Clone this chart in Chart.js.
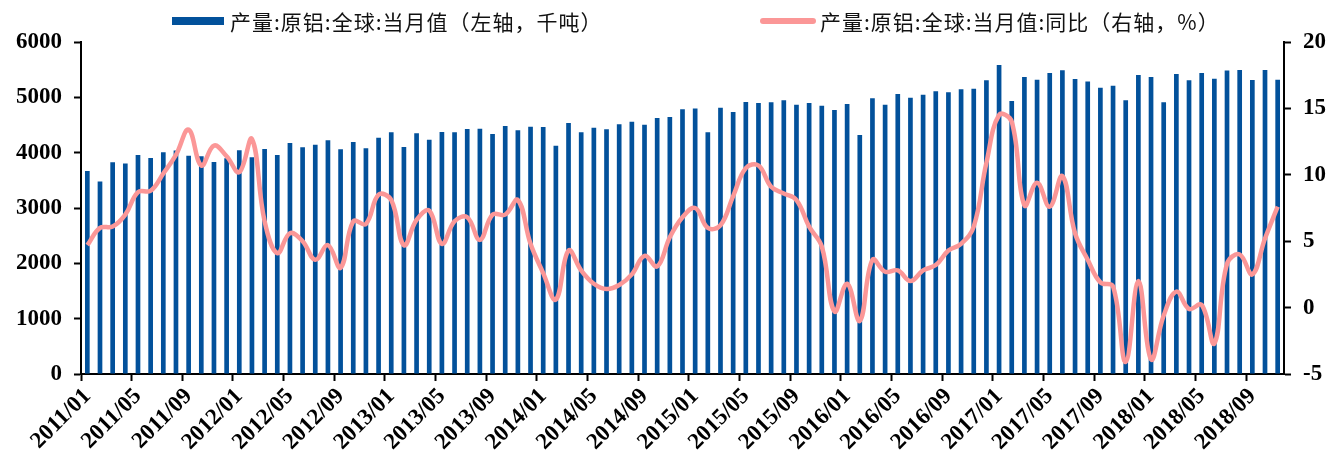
<!DOCTYPE html>
<html>
<head>
<meta charset="utf-8">
<script src="https://cdn.jsdelivr.net/npm/chart.js@4/dist/chart.umd.min.js"></script>
<style>
  html, body { margin: 0; padding: 0; background: #fff; }
  #wrap { position: relative; width: 1331px; height: 459px; }
</style>
</head>
<body>
<div id="wrap"><canvas id="c" width="1331" height="459"></canvas></div>
<script>
// Monthly categories, 2011/01 – 2018/11
const months = [
  '2011/01','2011/02','2011/03','2011/04','2011/05','2011/06','2011/07','2011/08','2011/09','2011/10','2011/11','2011/12',
  '2012/01','2012/02','2012/03','2012/04','2012/05','2012/06','2012/07','2012/08','2012/09','2012/10','2012/11','2012/12',
  '2013/01','2013/02','2013/03','2013/04','2013/05','2013/06','2013/07','2013/08','2013/09','2013/10','2013/11','2013/12',
  '2014/01','2014/02','2014/03','2014/04','2014/05','2014/06','2014/07','2014/08','2014/09','2014/10','2014/11','2014/12',
  '2015/01','2015/02','2015/03','2015/04','2015/05','2015/06','2015/07','2015/08','2015/09','2015/10','2015/11','2015/12',
  '2016/01','2016/02','2016/03','2016/04','2016/05','2016/06','2016/07','2016/08','2016/09','2016/10','2016/11','2016/12',
  '2017/01','2017/02','2017/03','2017/04','2017/05','2017/06','2017/07','2017/08','2017/09','2017/10','2017/11','2017/12',
  '2018/01','2018/02','2018/03','2018/04','2018/05','2018/06','2018/07','2018/08','2018/09','2018/10','2018/11'
];

// Global primary aluminium output, monthly (thousand tonnes)
const output = [
  3670, 3480, 3826, 3805, 3958, 3905, 4006, 4040, 3946, 3934, 3831, 3897,
  4042, 3916, 4066, 3958, 4175, 4097, 4145, 4223, 4060, 4193, 4078, 4271,
  4367, 4103, 4349, 4235, 4373, 4367, 4428, 4433, 4338, 4482, 4404, 4470,
  4464, 4126, 4536, 4367, 4452, 4422, 4512, 4560, 4506, 4627, 4645, 4784,
  4796, 4367, 4813, 4735, 4916, 4898, 4910, 4946, 4867, 4898, 4850, 4771,
  4880, 4320, 4982, 4867, 5060, 4994, 5048, 5109, 5091, 5145, 5157, 5308,
  5585, 4934, 5368, 5320, 5440, 5489, 5332, 5284, 5175, 5211, 4946, 5404,
  5368, 4910, 5422, 5308, 5440, 5338, 5483, 5495, 5314, 5495, 5320
];

// Year-on-year change (%)
const yoy = [
  4.7, 6.0, 6.1, 7.0, 8.7, 8.8, 10.1, 11.5, 13.4, 10.7, 12.2, 11.4,
  10.2, 12.7, 6.5, 4.1, 5.6, 5.0, 3.6, 4.7, 3.0, 6.5, 6.3, 8.5,
  8.1, 4.7, 6.6, 7.3, 4.8, 6.5, 6.8, 5.1, 7.0, 7.0, 8.1, 4.8,
  2.6, 0.6, 4.3, 2.8, 1.8, 1.4, 1.7, 2.5, 3.9, 3.1, 5.3, 6.8,
  7.5, 6.0, 6.2, 8.4, 10.5, 10.7, 9.1, 8.6, 8.1, 6.1, 4.6, -0.3,
  1.8, -1.0, 3.6, 2.7, 2.8, 2.0, 2.8, 3.2, 4.3, 4.8, 6.1, 10.9,
  14.5, 14.0, 7.7, 9.4, 7.6, 9.9, 5.6, 3.6, 1.9, 1.6, -4.1, 2.0,
  -3.9, -0.6, 1.2, -0.1, 0.2, -2.7, 3.3, 4.0, 2.5, 5.2, 7.6
];

// Axis tick settings
const leftTicks = { min: 0, max: 6000, step: 1000 };
const rightTicks = { min: -5, max: 20, step: 5 };
const labelEvery = 4;

const seriesNames = ['产量:原铝:全球:当月值（左轴，千吨）', '产量:原铝:全球:当月值:同比（右轴，%）'];

const BAR_COLOR = '#02519b';
const LINE_COLOR = '#fb9797';
const tickFont = { family: "'Liberation Serif', 'Times New Roman', serif", size: 23, weight: 'bold' };

// Legend drawn across the top of the canvas
const topLegend = {
  id: 'topLegend',
  afterDraw(chart) {
    const ctx = chart.ctx;
    ctx.save();
    ctx.font = "21px 'Noto Sans CJK SC', sans-serif";
    if ('letterSpacing' in ctx) ctx.letterSpacing = '1px';
    ctx.textBaseline = 'middle';
    const cy = 21;
    // bar series swatch
    ctx.fillStyle = chart.data.datasets[0].backgroundColor;
    ctx.fillRect(172, cy - 4, 52, 8);
    ctx.fillStyle = '#111';
    ctx.fillText(chart.data.datasets[0].label, 230, cy + 1);
    // line series swatch
    ctx.strokeStyle = chart.data.datasets[1].borderColor;
    ctx.lineWidth = 6;
    ctx.lineCap = 'round';
    ctx.beginPath();
    ctx.moveTo(763, cy);
    ctx.lineTo(813, cy);
    ctx.stroke();
    ctx.fillText(chart.data.datasets[1].label, 820, cy + 1);
    ctx.restore();
  }
};

new Chart(document.getElementById('c'), {
  data: {
    labels: months,
    datasets: [
      {
        type: 'bar',
        label: seriesNames[0],
        data: output,
        yAxisID: 'y',
        backgroundColor: BAR_COLOR,
        borderWidth: 0,
        categoryPercentage: 1,
        barPercentage: 0.37,
        order: 1
      },
      {
        type: 'line',
        label: seriesNames[1],
        data: yoy,
        yAxisID: 'y1',
        borderColor: LINE_COLOR,
        backgroundColor: LINE_COLOR,
        borderWidth: 4.5,
        pointRadius: 0,
        tension: 0.4,
        order: 0
      }
    ]
  },
  options: {
    responsive: false,
    animation: false,
    events: [],
    layout: { padding: { top: 42, right: 0, bottom: 0, left: 0 } },
    plugins: { legend: { display: false }, tooltip: { enabled: false } },
    scales: {
      x: {
        type: 'category',
        offset: true,
        grid: {
          offset: true,
          drawOnChartArea: false,
          drawTicks: true,
          tickLength: 7,
          tickWidth: 2,
          tickColor: (c) => (c.index !== undefined && c.index % labelEvery === 0) ? '#000' : 'rgba(0,0,0,0)'
        },
        border: { display: true, color: '#000', width: 2 },
        ticks: {
          autoSkip: false,
          minRotation: 45,
          maxRotation: 45,
          padding: 2,
          color: '#000',
          font: tickFont,
          callback: (v, i) => (i % labelEvery === 0 ? months[i] : '')
        },
        afterFit: (s) => { s.height = 85; }
      },
      y: {
        position: 'left',
        min: leftTicks.min,
        max: leftTicks.max,
        grid: { drawOnChartArea: false, tickLength: 7, tickWidth: 2, tickColor: '#000' },
        border: { display: true, color: '#000', width: 2 },
        ticks: { stepSize: leftTicks.step, color: '#000', font: tickFont, padding: 12, callback: (v) => String(v) },
        afterFit: (s) => { s.width = 81; }
      },
      y1: {
        position: 'right',
        min: rightTicks.min,
        max: rightTicks.max,
        grid: { drawOnChartArea: false, tickLength: 7, tickWidth: 2, tickColor: '#000' },
        border: { display: true, color: '#000', width: 2 },
        ticks: { stepSize: rightTicks.step, color: '#000', font: tickFont, padding: 12, callback: (v) => String(v) },
        afterFit: (s) => { s.width = 47; }
      }
    }
  },
  plugins: [topLegend]
});
</script>
</body>
</html>
